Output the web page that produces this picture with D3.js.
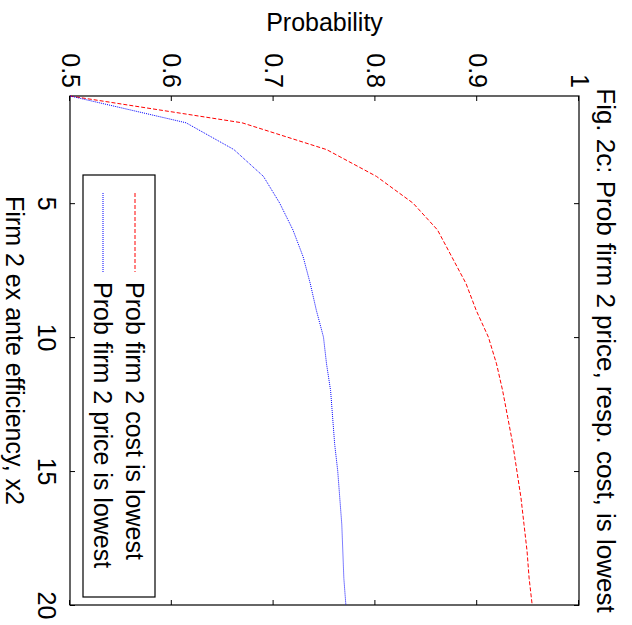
<!DOCTYPE html>
<html>
<head>
<meta charset="utf-8">
<script src="https://cdn.jsdelivr.net/npm/d3@7"></script>
<style>
  body { margin: 0; background: #fff; }
  svg { display: block; font-family: Arial, "Liberation Sans", sans-serif; }
</style>
</head>
<body>
<svg id="chart" width="632" height="625"></svg>
<script>
// data
var efficiency = [1, 2, 3, 4, 5, 6, 7, 8, 9, 10, 11, 12, 13, 14, 15, 16, 17, 18, 19, 20];
var probCost = [0.500, 0.669, 0.752, 0.801, 0.837, 0.861, 0.875, 0.889, 0.899, 0.911,
                0.919, 0.925, 0.930, 0.935, 0.939, 0.943, 0.946, 0.949, 0.951, 0.954];
var probPrice = [0.500, 0.614, 0.661, 0.690, 0.706, 0.719, 0.729, 0.736, 0.742, 0.749,
                 0.752, 0.756, 0.758, 0.760, 0.763, 0.765, 0.767, 0.768, 0.769, 0.771];
var xTicks = [5, 10, 15, 20];
var yTicks = [0.5, 0.6, 0.7, 0.8, 0.9, 1];
var seriesNames = ['Prob firm 2 cost is lowest', 'Prob firm 2 price is lowest'];

var fontSize = 25;
var titleSize = 26;

var svg = d3.select('#chart');

// the whole figure is turned a quarter turn clockwise,
// so draw a normal plot inside a rotated group
var g = svg.append('g')
  .attr('transform', 'translate(632,0) rotate(90)');

var plotLeft = 96, plotRight = 605, plotTop = 53, plotBottom = 562;

var x = d3.scaleLinear().domain([1, 20]).range([plotLeft, plotRight]);
var y = d3.scaleLinear().domain([0.5, 1]).range([plotBottom, plotTop]);

/**
 * Axes (ticks inside, mirrored on the opposite side)
 */
var tickLen = 5;

g.append('g')
  .attr('transform', 'translate(0,' + plotBottom + ')')
  .call(d3.axisBottom(x).tickValues(xTicks).tickSizeInner(-tickLen).tickSizeOuter(0).tickPadding(14)
    .tickFormat(d3.format('d')))
  .call(function (a) {
    a.select('.domain').remove();
    a.selectAll('text').style('font-size', fontSize + 'px').attr('fill', '#000');
  });

g.append('g')
  .attr('transform', 'translate(0,' + plotTop + ')')
  .call(d3.axisTop(x).tickValues(xTicks).tickSizeInner(-tickLen).tickSizeOuter(0).tickFormat(''))
  .call(function (a) { a.select('.domain').remove(); });

g.append('g')
  .attr('transform', 'translate(' + plotLeft + ',0)')
  .call(d3.axisLeft(y).tickValues(yTicks).tickSizeInner(-tickLen).tickSizeOuter(0).tickPadding(8)
    .tickFormat(d3.format('~g')))
  .call(function (a) {
    a.select('.domain').remove();
    a.selectAll('text').style('font-size', fontSize + 'px').attr('fill', '#000');
  });

g.append('g')
  .attr('transform', 'translate(' + plotRight + ',0)')
  .call(d3.axisRight(y).tickValues(yTicks).tickSizeInner(-tickLen).tickSizeOuter(0).tickFormat(''))
  .call(function (a) { a.select('.domain').remove(); });

g.selectAll('.tick line').attr('stroke', '#000').attr('stroke-width', 1);

// frame
g.append('rect')
  .attr('x', plotLeft)
  .attr('y', plotTop)
  .attr('width', plotRight - plotLeft)
  .attr('height', plotBottom - plotTop)
  .attr('fill', 'none')
  .attr('stroke', '#000')
  .attr('stroke-width', 1.2);

/**
 * Lines
 */
var line = d3.line()
  .x(function (d) { return x(d[0]); })
  .y(function (d) { return y(d[1]); });

g.append('path')
  .datum(d3.zip(efficiency, probCost))
  .attr('d', line)
  .attr('fill', 'none')
  .attr('stroke', '#ff0000')
  .attr('stroke-width', 1)
  .attr('stroke-dasharray', '4,2');

g.append('path')
  .datum(d3.zip(efficiency, probPrice))
  .attr('d', line)
  .attr('fill', 'none')
  .attr('stroke', '#0000ff')
  .attr('stroke-width', 1)
  .attr('stroke-dasharray', '1,1');

/**
 * Labels
 */
g.append('text')
  .attr('x', (plotLeft + plotRight) / 2)
  .attr('y', 26)
  .attr('dy', '0.35em')
  .attr('text-anchor', 'middle')
  .style('font-size', titleSize + 'px')
  .text('Fig. 2c: Prob firm 2 price, resp. cost, is lowest');

g.append('text')
  .attr('x', (plotLeft + plotRight) / 2)
  .attr('y', 617)
  .attr('dy', '0.35em')
  .attr('text-anchor', 'middle')
  .style('font-size', fontSize + 'px')
  .text('Firm 2 ex ante efficiency, x2');

g.append('text')
  .attr('transform', 'translate(22,' + ((plotTop + plotBottom) / 2) + ') rotate(-90)')
  .attr('dy', '0.35em')
  .attr('text-anchor', 'middle')
  .style('font-size', fontSize + 'px')
  .text('Probability');

/**
 * Legend
 */
var legend = g.append('g')
  .attr('transform', 'translate(175,477)');

legend.append('rect')
  .attr('width', 422)
  .attr('height', 72)
  .attr('fill', '#fff')
  .attr('stroke', '#000')
  .attr('stroke-width', 1.2);

var legendStyles = [
  { color: '#ff0000', dash: '4,2' },
  { color: '#0000ff', dash: '1,1' }
];

seriesNames.forEach(function (name, i) {
  var cy = 20 + i * 32;
  legend.append('line')
    .attr('x1', 18)
    .attr('x2', 97)
    .attr('y1', cy)
    .attr('y2', cy)
    .attr('stroke', legendStyles[i].color)
    .attr('stroke-width', 1)
    .attr('stroke-dasharray', legendStyles[i].dash);
  legend.append('text')
    .attr('x', 107)
    .attr('y', cy)
    .attr('dy', '0.35em')
    .style('font-size', fontSize + 'px')
    .text(name);
});
</script>
</body>
</html>
